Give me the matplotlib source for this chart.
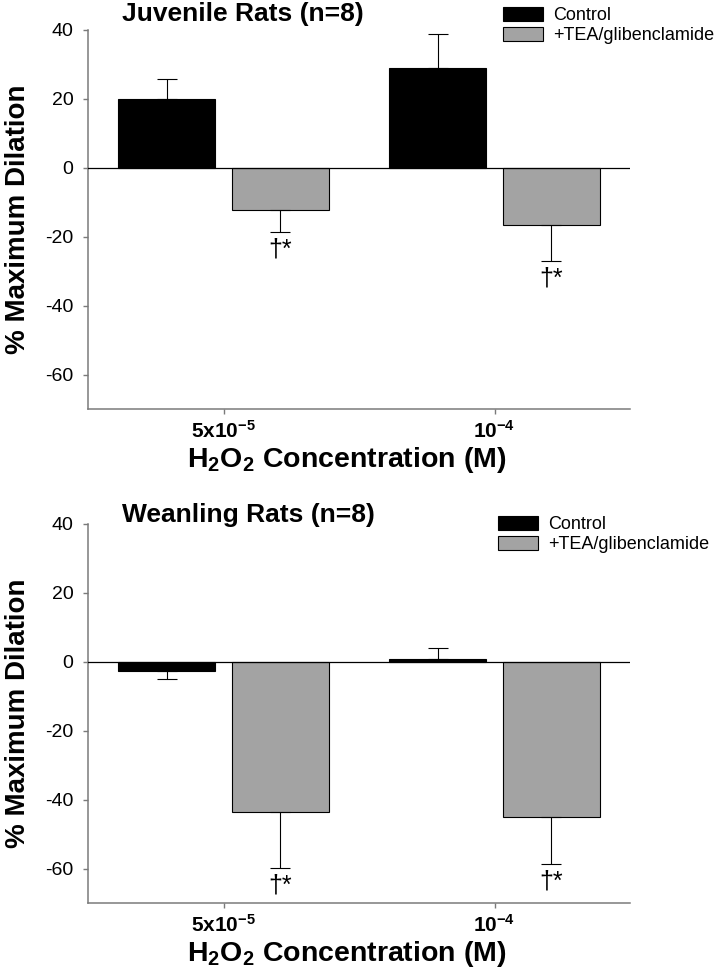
import numpy as np
import matplotlib
matplotlib.use('Agg')
import matplotlib.pyplot as plt
from matplotlib.patches import Patch

plt.rcParams['font.family'] = ['Liberation Sans', 'DejaVu Sans']
plt.rcParams['mathtext.fontset'] = 'custom'
plt.rcParams['mathtext.rm'] = 'Liberation Sans'
plt.rcParams['mathtext.bf'] = 'Liberation Sans:bold'
plt.rcParams['axes.unicode_minus'] = False

# categories
concentrations = [r'$\mathbf{5x10^{-5}}$', r'$\mathbf{10^{-4}}$']
series_names = ['Control', '+TEA/glibenclamide']

# Juvenile rats (n=8)
juvenile_control = [20.0, 29.0]
juvenile_control_err = [5.8, 9.8]
juvenile_tea = [-12.2, -16.5]
juvenile_tea_err = [6.3, 10.5]
juvenile_sig = [True, True]

# Weanling rats (n=8)
weanling_control = [-2.6, 0.9]
weanling_control_err = [2.3, 3.2]
weanling_tea = [-43.5, -45.0]
weanling_tea_err = [16.2, 13.8]
weanling_sig = [True, True]

panel_titles = ['Juvenile Rats (n=8)', 'Weanling Rats (n=8)']

bar_colors = ['black', '#a3a3a3']
spine_col = '#7a7a7a'
W, H = 718, 975


def one_sided(vals, errs):
    vals = np.array(vals)
    errs = np.array(errs)
    lower = np.where(vals < 0, errs, 0)
    upper = np.where(vals >= 0, errs, 0)
    return [lower, upper]


def draw_panel(ax, control, control_err, tea, tea_err, sig):
    x = np.arange(len(concentrations))
    width = 0.36
    off = 0.21
    for vals, errs, xs, col in [(control, control_err, x - off, bar_colors[0]),
                                (tea, tea_err, x + off, bar_colors[1])]:
        ax.bar(xs, vals, width, color=col, edgecolor='black', linewidth=0.8, zorder=2)
        ax.errorbar(xs, vals, yerr=one_sided(vals, errs), fmt='none', ecolor='black',
                    elinewidth=0.8, capsize=7.5, capthick=0.8, zorder=3)
    # significance marks under the treated bars
    for i in range(len(tea)):
        if sig[i]:
            ax.text(x[i] + off, tea[i] - tea_err[i] - 1.6, '†*', ha='center', va='top',
                    fontsize=18)
    ax.axhline(0, color='black', linewidth=0.9, zorder=4)
    ax.set_xlim(-0.5, 1.5)
    ax.set_ylim(-70, 40)
    ax.set_yticks([-60, -40, -20, 0, 20, 40])
    ax.set_xticks(x)
    ax.set_xticklabels(concentrations, fontsize=15)
    ax.tick_params(axis='y', labelsize=14, length=3.6, width=1, color=spine_col, pad=7)
    ax.tick_params(axis='x', length=3.6, width=1, color=spine_col, pad=4)
    for s in ['top', 'right']:
        ax.spines[s].set_visible(False)
    for s in ['left', 'bottom']:
        ax.spines[s].set_color(spine_col)
        ax.spines[s].set_linewidth(1.1)
    ax.set_ylabel('% Maximum Dilation', fontsize=20, fontweight='bold')
    ax.yaxis.set_label_coords(-0.105, 0.5)
    ax.set_xlabel(r'H$_\mathbf{2}$O$_\mathbf{2}$ Concentration (M)', fontsize=20.5,
                  fontweight='bold')
    ax.xaxis.set_label_coords(0.478, -0.095)


fig = plt.figure(figsize=(W / 100, H / 100), dpi=100)
ax1 = fig.add_axes([88 / W, 1 - 409 / H, 542 / W, 379 / H])
ax2 = fig.add_axes([88 / W, 1 - 903 / H, 542 / W, 379 / H])

draw_panel(ax1, juvenile_control, juvenile_control_err, juvenile_tea, juvenile_tea_err, juvenile_sig)
draw_panel(ax2, weanling_control, weanling_control_err, weanling_tea, weanling_tea_err, weanling_sig)

fig.text(122 / W, 1 - 21 / H, panel_titles[0], fontsize=19, fontweight='bold', va='baseline')
fig.text(122 / W, 1 - 522 / H, panel_titles[1], fontsize=19, fontweight='bold', va='baseline')

handles = [Patch(facecolor=bar_colors[0], edgecolor='black', linewidth=0.8),
           Patch(facecolor=bar_colors[1], edgecolor='black', linewidth=0.8)]
for ax, anchor in [(ax1, (503 / W, 1 - 7 / H)), (ax2, (498 / W, 1 - 516 / H))]:
    ax.legend(handles, series_names, loc='upper left', bbox_to_anchor=anchor,
              bbox_transform=fig.transFigure, frameon=False, fontsize=13,
              handlelength=2.2, handleheight=0.83, handletextpad=0.6,
              labelspacing=0.15, borderpad=0, borderaxespad=0)

fig.savefig('out.png', dpi=100)
